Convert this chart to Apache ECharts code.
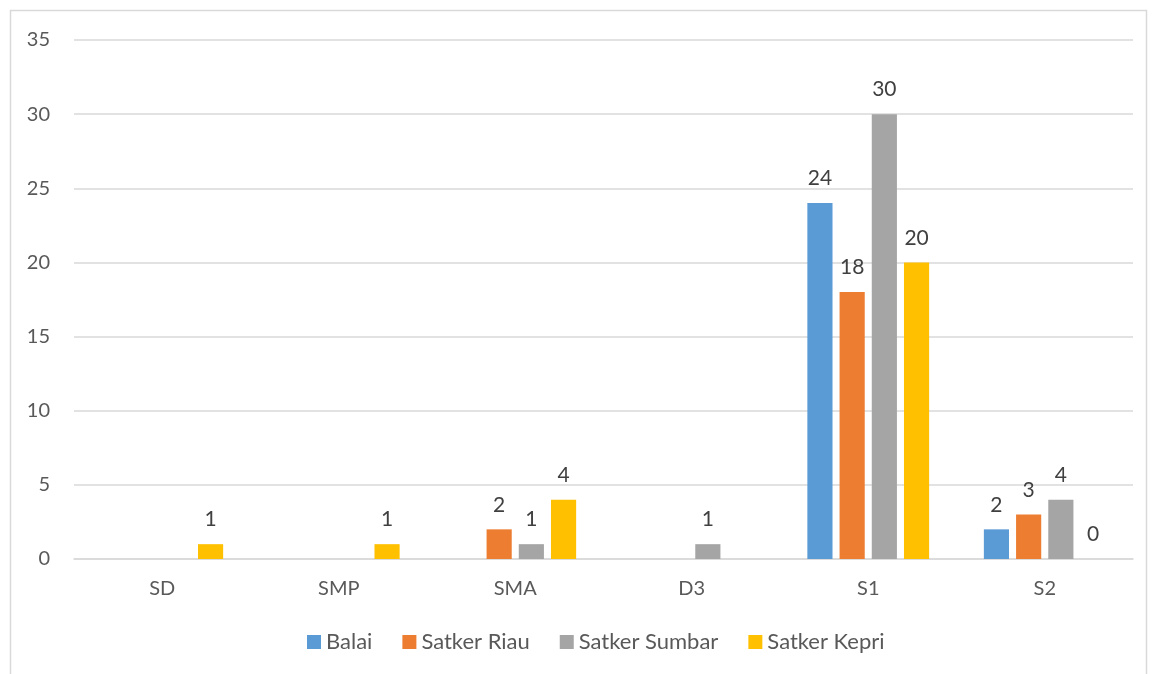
<!DOCTYPE html>
<html><head><meta charset="utf-8">
<script src="https://cdn.jsdelivr.net/npm/echarts@6/dist/echarts.min.js"></script>
<style>html,body{margin:0;padding:0;background:#fff}#c{width:1155px;height:674px}</style>
</head><body><div id="c"></div>
<script>
const categories = ['SD','SMP','SMA','D3','S1','S2'];
const seriesNames = ['Balai','Satker Riau','Satker Sumbar','Satker Kepri'];
const balai = [null,null,null,null,24,2];
const satkerRiau = [null,null,2,null,18,3];
const satkerSumbar = [null,null,1,1,30,4];
const satkerKepri = [1,1,4,null,20,0];
const yTicks = [0,5,10,15,20,25,30,35];

const colors = ['#5B9BD5','#ED7D31','#A5A5A5','#FFC000'];
const values = [balai, satkerRiau, satkerSumbar, satkerKepri];
const font = 'Lato, "Open Sans", sans-serif';
const chart = echarts.init(document.getElementById('c'));
chart.setOption({
  animation:false,
  color: colors,
  graphic:[{type:'rect',shape:{x:10.5,y:10.5,width:1136,height:680},style:{fill:'none',stroke:'#D9D9D9',lineWidth:1.5},silent:true,z:-1}],
  grid:{left:74,right:22,top:40,bottom:115},
  legend:{bottom:16,left:302,itemWidth:14,itemHeight:14,itemGap:30,icon:'rect',
    textStyle:{fontSize:22,color:'#595959',fontFamily:font},data:seriesNames},
  xAxis:{type:'category',data:categories,
    axisLine:{lineStyle:{color:'#D9D9D9',width:1.5}},axisTick:{show:false},
    axisLabel:{fontSize:20,color:'#595959',fontFamily:font,margin:20}},
  yAxis:{type:'value',min:yTicks[0],max:yTicks[yTicks.length-1],interval:5,
    axisLine:{show:false},axisTick:{show:false},
    splitLine:{lineStyle:{color:'#D9D9D9',width:1.5}},
    axisLabel:{fontSize:20,color:'#595959',fontFamily:font,margin:24}},
  series: seriesNames.map((n,i)=>({
    name:n,type:'bar',data:values[i],barGap:'28%',barCategoryGap:'31%',
    label:{show:true,position:'top',distance:14,fontSize:21,color:'#404040',fontFamily:font}
  }))
});
</script></body></html>
